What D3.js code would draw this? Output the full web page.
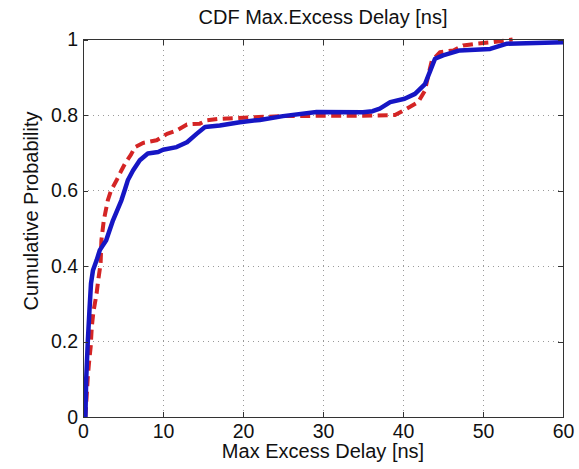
<!DOCTYPE html>
<html>
<head>
<meta charset="utf-8">
<script src="https://cdn.jsdelivr.net/npm/d3@7/dist/d3.min.js"></script>
<style>
  html, body { margin: 0; padding: 0; background: #fff; }
  svg { display: block; font-family: "Liberation Sans", Arial, sans-serif; }
</style>
</head>
<body>
<svg id="chart" width="579" height="469"></svg>
<script>
// Empirical CDFs of maximum excess delay (ns)
const blueDelay = [0.3, 0.4, 0.6, 0.8, 1.0, 1.25, 1.7, 2.1, 2.9, 3.75, 4.8, 5.2, 5.6, 6.25, 7.1, 8.1, 9.4, 10.0, 11.7, 13.0, 14.2, 15.25, 17.1, 19.6, 22.1, 25.0, 29.2, 35.0, 36.2, 37.1, 38.4, 40.2, 41.5, 42.75, 43.4, 44.0, 45.0, 47.1, 50.9, 53.0, 60.0];
const blueProb  = [0, 0.1, 0.2, 0.28, 0.354, 0.389, 0.415, 0.442, 0.468, 0.521, 0.574, 0.6, 0.627, 0.653, 0.68, 0.698, 0.702, 0.708, 0.715, 0.728, 0.75, 0.768, 0.772, 0.781, 0.787, 0.797, 0.808, 0.807, 0.81, 0.817, 0.834, 0.843, 0.856, 0.882, 0.917, 0.949, 0.958, 0.971, 0.975, 0.989, 0.993];

const redDelay = [0.3, 0.6, 0.75, 0.96, 1.1, 1.3, 1.7, 1.9, 2.2, 2.3, 2.6, 3.1, 3.5, 4.2, 4.8, 5.25, 6.0, 6.5, 7.5, 9.2, 10.5, 11.7, 13.0, 14.6, 15.5, 17.1, 21.3, 25.0, 30.0, 35.0, 39.0, 40.5, 41.9, 42.75, 43.0, 43.6, 44.6, 46.3, 47.5, 49.2, 51.3, 53.7];
const redProb  = [0, 0.106, 0.143, 0.186, 0.239, 0.278, 0.327, 0.362, 0.406, 0.468, 0.521, 0.574, 0.6, 0.627, 0.653, 0.671, 0.695, 0.715, 0.726, 0.733, 0.75, 0.759, 0.775, 0.777, 0.786, 0.79, 0.794, 0.797, 0.798, 0.798, 0.8, 0.817, 0.834, 0.865, 0.89, 0.944, 0.966, 0.971, 0.984, 0.989, 0.993, 1.0];

const xTicks = [0, 10, 20, 30, 40, 50, 60];
const yTicks = [0, 0.2, 0.4, 0.6, 0.8, 1];
const yTickLabels = ["0", "0.2", "0.4", "0.6", "0.8", "1"];

const titleText = "CDF Max.Excess Delay [ns]";
const xLabelText = "Max Excess Delay [ns]";
const yLabelText = "Cumulative Probability";

const svg = d3.select("#chart");
const plotL = 83, plotR = 563, plotT = 39.5, plotB = 417;
const plotW = plotR - plotL, plotH = plotB - plotT;

const x = d3.scaleLinear().domain([0, 60]).range([plotL, plotR]);
const y = d3.scaleLinear().domain([0, 1]).range([plotB, plotT]);

// dotted grid
const grid = svg.append("g").attr("class", "grid");
grid.selectAll("line.gx").data(xTicks.slice(1, -1)).join("line").attr("class", "gx")
  .attr("x1", d => x(d)).attr("x2", d => x(d))
  .attr("y1", plotT).attr("y2", plotB);
grid.selectAll("line.gy").data(yTicks.slice(1, -1)).join("line").attr("class", "gy")
  .attr("x1", plotL).attr("x2", plotR)
  .attr("y1", d => y(d)).attr("y2", d => y(d));
grid.selectAll("line")
  .attr("stroke", "#9a9a9a").attr("stroke-width", 1)
  .attr("stroke-dasharray", "1,4").attr("shape-rendering", "crispEdges");

// curves
const lineGen = (xs, ys) => d3.line().x((d, i) => x(xs[i])).y((d, i) => y(ys[i]))(xs);

svg.append("path")
  .attr("d", lineGen(redDelay, redProb))
  .attr("fill", "none").attr("stroke", "#d42525")
  .attr("stroke-width", 4).attr("stroke-dasharray", "10,5.5")
  .attr("stroke-linejoin", "round");

svg.append("path")
  .attr("d", lineGen(blueDelay, blueProb))
  .attr("fill", "none").attr("stroke", "#1616c4")
  .attr("stroke-width", 4.5)
  .attr("stroke-linejoin", "round").attr("stroke-linecap", "butt");

// axes with inward ticks on all four sides
const styleAxis = g => {
  g.select(".domain").remove();
  g.selectAll(".tick line").attr("stroke", "#333").attr("shape-rendering", "crispEdges");
  g.selectAll("text").attr("fill", "#111").style("font-size", "19.5px")
    .style("font-family", "'Liberation Sans', Arial, sans-serif");
};

svg.append("g").attr("transform", `translate(0,${plotB})`)
  .call(d3.axisBottom(x).tickValues(xTicks).tickFormat(d3.format("d")).tickSizeInner(-5).tickSizeOuter(0).tickPadding(7))
  .call(styleAxis);
svg.append("g").attr("transform", `translate(0,${plotT})`)
  .call(d3.axisTop(x).tickValues(xTicks).tickFormat("").tickSizeInner(-5).tickSizeOuter(0))
  .call(styleAxis);
svg.append("g").attr("transform", `translate(${plotL},0)`)
  .call(d3.axisLeft(y).tickValues(yTicks).tickFormat((d, i) => yTickLabels[i]).tickSizeInner(-5).tickSizeOuter(0).tickPadding(5))
  .call(styleAxis);
svg.append("g").attr("transform", `translate(${plotR},0)`)
  .call(d3.axisRight(y).tickValues(yTicks).tickFormat("").tickSizeInner(-5).tickSizeOuter(0))
  .call(styleAxis);

// frame
svg.append("rect")
  .attr("x", plotL).attr("y", plotT).attr("width", plotW).attr("height", plotH)
  .attr("fill", "none").attr("stroke", "#333").attr("stroke-width", 1)
  .attr("shape-rendering", "crispEdges");

// labels
svg.append("text").attr("x", (plotL + plotR) / 2).attr("y", 24)
  .attr("text-anchor", "middle").style("font-size", "20px").attr("fill", "#111")
  .text(titleText);
svg.append("text").attr("x", (plotL + plotR) / 2).attr("y", 458)
  .attr("text-anchor", "middle").style("font-size", "20px").attr("fill", "#111")
  .text(xLabelText);
svg.append("text").attr("transform", "translate(38,211) rotate(-90)")
  .attr("text-anchor", "middle").style("font-size", "20px").attr("fill", "#111")
  .text(yLabelText);
</script>
</body>
</html>
